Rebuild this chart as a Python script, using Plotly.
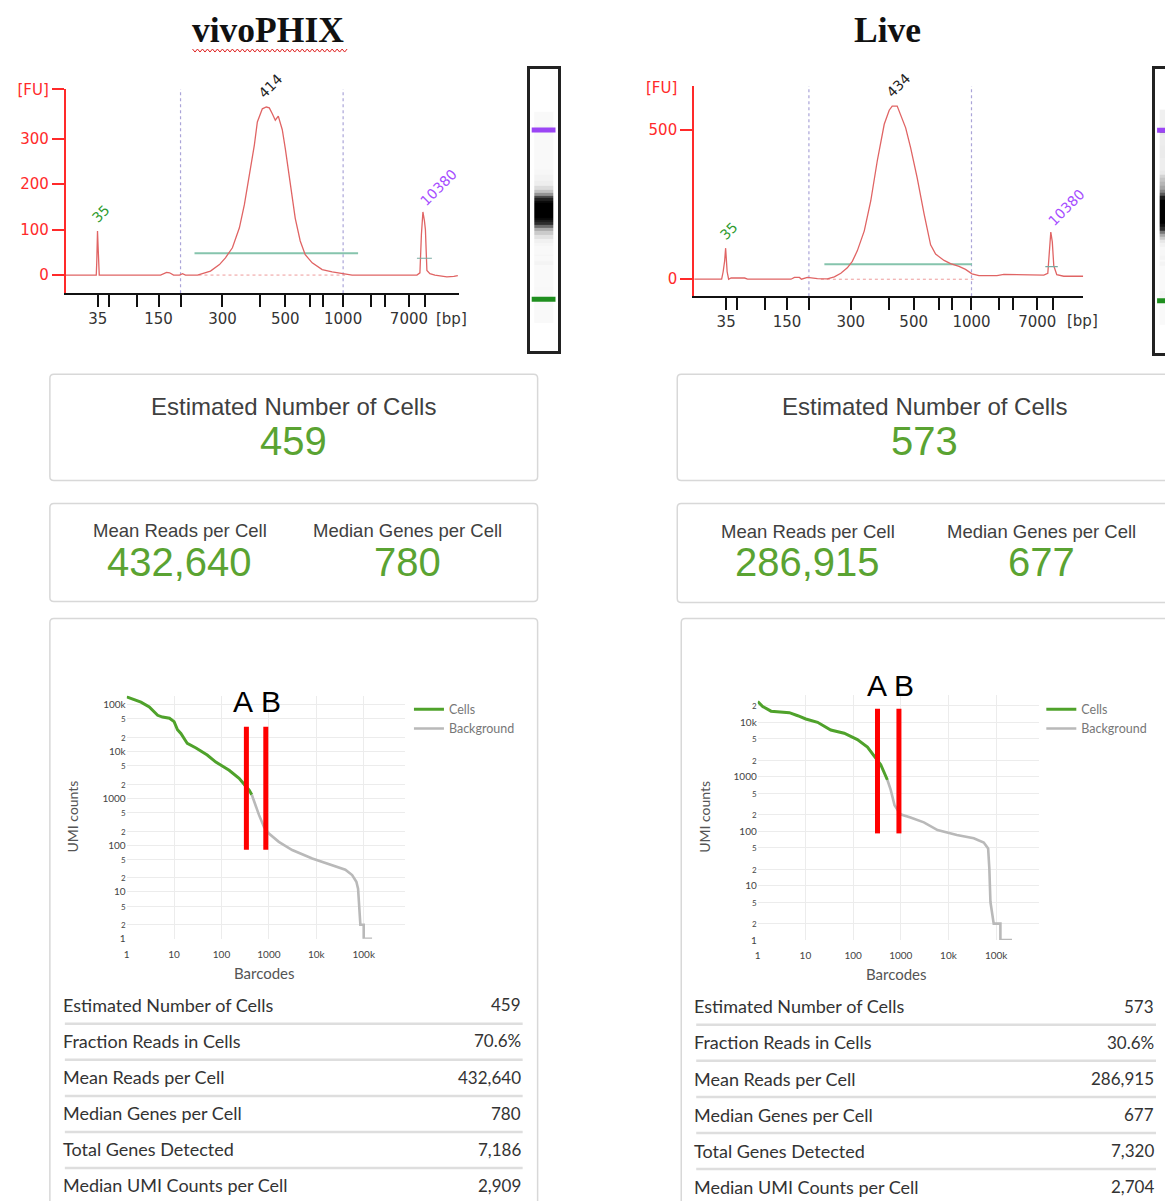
import numpy as np
import plotly.graph_objects as go

W, H = 1165, 1201
OFF, SCALE = 8, 0.9867   # vertical page offset / scale observed in the rendering

# ---------------- data ----------------
samples = ["vivoPHIX", "Live"]

ladder_bp = [35, 50, 100, 150, 200, 300, 400, 500, 600, 700, 1000, 2000, 3000, 7000, 10380]
ladder_time = [42.4, 44.6, 50.2, 54.6, 59.0, 67.4, 75.0, 80.0, 85.0, 87.6, 91.6, 97.2, 100.0, 104.8, 108.0]
labeled_bp = [35, 150, 300, 500, 1000, 7000]
region_bp = [200, 1000]

vivo_time = [36.0, 41.4, 42.1, 42.2, 42.35, 42.45, 42.6, 42.7, 43.4, 45.8, 46.4, 47.0, 55.0, 56.2, 56.8,
             57.6, 58.8, 59.4, 60.0, 62.4, 63.4, 65.0, 66.8, 68.0, 69.4, 70.8, 71.8, 72.8, 73.8, 74.4,
             75.4, 76.2, 76.8, 77.4, 78.0, 78.6, 79.0, 79.4, 80.0, 81.0, 82.0, 83.0, 84.0, 85.4, 87.4,
             89.4, 92.0, 93.4, 106.4, 107.0, 107.3, 107.6, 107.9, 108.1, 108.4, 109.0, 110.0, 111.4,
             112.4, 113.8, 114.6]
vivo_fu = [0, 0, 0, 28, 97, 68, 30, 0, 0, 0, 1, 0, 0, 6, 5,
           0, 0, 3, 0, 0, 3.7, 8.8, 23, 38, 60, 104, 155, 221, 286, 337,
           366, 370, 368, 355, 341, 350, 335, 320, 279, 198, 125, 75, 45, 27, 12,
           7, 2, 0, 0, 5, 90, 139, 120, 100, 10, 3, 0, -2,
           -4, -3, -1]
live_time = [36.0, 41.5, 41.8, 42.1, 42.3, 42.5, 42.6, 42.9, 43.4, 46.1, 46.7, 55.4, 56.1, 57.1, 57.5,
             58.7, 60.7, 62.7, 64.1, 65.4, 66.7, 67.7, 68.7, 70.1, 71.4, 72.7, 74.1, 75.1, 75.7, 76.7,
             77.4, 78.4, 79.4, 80.7, 82.1, 83.4, 84.4, 86.1, 87.4, 89.1, 90.4, 91.7, 93.1, 96.7, 98.1,
             106.1, 106.9, 107.3, 107.5, 107.8, 108.1, 108.7, 110.1, 114.0]
live_fu = [0, 0, 25, 61, 104, 61, 25, 0, 4, 4, 0, 0, 6, 6, 0,
           6, 2, 1, 8, 20, 38, 60, 95, 162, 262, 396, 519, 566, 580, 580,
           550, 507, 440, 340, 218, 115, 84, 63, 52, 43, 33, 18, 12, 12, 16,
           14, 20, 100, 158, 125, 45, 15, 10, 10]

vivo_peak_label = ["35", "414", "10380"]
vivo_peak_time = [42.35, 76.2, 107.6]
vivo_peak_fu = [97, 370, 139]
live_peak_label = ["35", "434", "10380"]
live_peak_time = [42.3, 76.2, 107.5]
live_peak_fu = [104, 580, 158]

vivo_region_time = [61.8, 94.6]
vivo_region_fu = 48
live_region_time = [62.1, 91.7]
live_region_fu = 50
vivo_base_time = [62.6, 92.0]
live_base_time = [61.4, 92.0]
vivo_marker_base = ([106.4, 109.4], 37)
live_marker_base = ([106.4, 108.9], 42)

est_cells = [459, 573]
frac_reads = ["70.6%", "30.6%"]
mean_reads = [432640, 286915]
median_genes = [780, 677]
total_genes = [7186, 7320]
median_umi = [2909, 2704]

vivo_cells_rank = [1, 1.6, 2, 3, 4.5, 5.7, 8, 10, 11.8, 13.9, 19, 29, 50, 76, 145, 235, 383, 436]
vivo_cells_umi = [148000, 126000, 115000, 91000, 60000, 55000, 52000, 44000, 29500, 24500, 15000,
                  12000, 8500, 6000, 4000, 2700, 1500, 1200]
vivo_bg_rank = [436, 490, 620, 790, 1000, 1620, 3100, 8200, 18500, 41000, 57000, 70000, 76000,
                79000, 81000, 85000, 100000, 100000, 150000]
vivo_bg_umi = [1200, 850, 440, 245, 178, 118, 79, 52, 39, 30, 23, 16.6, 11.8, 6.2, 3.2, 2, 2, 1, 1]
live_cells_rank = [1, 1.27, 1.9, 3.1, 4.6, 6.9, 10.2, 18, 34, 65, 123, 200, 275, 380, 525]
live_cells_umi = [24000, 19500, 16000, 15200, 15000, 13200, 11500, 10000, 7200, 6300, 4800, 3500,
                  2450, 1660, 870]
live_bg_rank = [525, 615, 740, 985, 1600, 3050, 5900, 15000, 34000, 55000, 68000, 72000, 76000,
                83000, 89000, 123000, 123000, 215000]
live_bg_umi = [870, 575, 300, 204, 178, 145, 105, 85, 74, 62, 48, 21, 5, 2.9, 2, 2, 1, 1]
vivo_thresh_rank = [335, 860]
vivo_thresh_span = [80, 34000]
live_thresh_rank = [325, 915]
live_thresh_span = [91, 17700]
thresh_labels = ["A", "B"]

table_labels = ["Estimated Number of Cells", "Fraction Reads in Cells", "Mean Reads per Cell",
                "Median Genes per Cell", "Total Genes Detected", "Median UMI Counts per Cell"]

# ---------------- helpers (reference pixel -> paper) ----------------
def PX(x):
    return x / W

def PY(y):
    return 1 - ((y - OFF) / SCALE) / H

def dom_x(a, b):
    return [a / W, min(b / W, 1.0)]

def dom_y(top, bottom):
    return [max(PY(bottom), 0.0), min(PY(top), 1.0)]

def t_of(bp):
    return ladder_time[ladder_bp.index(bp)]

GREEN = "#5aa332"
EP_RED = "#e06464"
AX_RED = "#ff2a2a"

fig = go.Figure()
shapes = []
ann = []

ep_sets = [
    dict(t=vivo_time, f=vivo_fu, xa="x", ya="y", reg=(vivo_region_time, vivo_region_fu),
         base=vivo_base_time, mb=vivo_marker_base,
         pk=(vivo_peak_label, vivo_peak_time, vivo_peak_fu)),
    dict(t=live_time, f=live_fu, xa="x2", ya="y2", reg=(live_region_time, live_region_fu),
         base=live_base_time, mb=live_marker_base,
         pk=(live_peak_label, live_peak_time, live_peak_fu)),
]
peak_colors = ["#2e9a2e", "#222222", "#a64dff"]
peak_shift = [(3, 17), (4, 21), (16, 25)]

for s in ep_sets:
    for b in region_bp:
        shapes.append(dict(type="line", xref=s["xa"], yref=s["ya"] + " domain",
                           x0=t_of(b), x1=t_of(b), y0=0, y1=1,
                           line=dict(color="#aaa4d8", width=1.2, dash="dot"), layer="below"))
    fig.add_trace(go.Scatter(x=s["base"], y=[0, 0], mode="lines", xaxis=s["xa"], yaxis=s["ya"],
                             line=dict(color="#ee9a9a", width=1, dash="dot"), showlegend=False,
                             hoverinfo="skip"))
    fig.add_trace(go.Scatter(x=s["reg"][0], y=[s["reg"][1]] * 2, mode="lines",
                             xaxis=s["xa"], yaxis=s["ya"],
                             line=dict(color="#86c4ad", width=2), showlegend=False, hoverinfo="skip"))
    fig.add_trace(go.Scatter(x=s["t"], y=s["f"], mode="lines", xaxis=s["xa"], yaxis=s["ya"],
                             line=dict(color=EP_RED, width=1.3), showlegend=False))
    fig.add_trace(go.Scatter(x=s["mb"][0], y=[s["mb"][1]] * 2, mode="lines",
                             xaxis=s["xa"], yaxis=s["ya"],
                             line=dict(color="#79aaa2", width=1.2), showlegend=False, hoverinfo="skip"))
    for lab, tt, ff, col, (dx, dy) in zip(*s["pk"], peak_colors, peak_shift):
        ann.append(dict(x=tt, y=ff, xref=s["xa"], yref=s["ya"], text=lab, showarrow=False,
                        textangle=-45, xshift=dx, yshift=dy,
                        font=dict(family="DejaVu Sans", size=14, color=col)))

ep_x = dict(tickmode="array", tickvals=ladder_time,
            ticktext=[str(b) if b in labeled_bp else "" for b in ladder_bp],
            ticks="outside", ticklen=12, tickwidth=2, tickcolor="#111", showline=True,
            linecolor="#111", linewidth=2, showgrid=False, zeroline=False, ticklabelstandoff=-1,
            tickfont=dict(family="DejaVu Sans", size=15, color="#333"), fixedrange=True)
ep_y = dict(ticks="outside", ticklen=12, tickwidth=2, tickcolor=AX_RED, showline=True,
            linecolor=AX_RED, linewidth=2, showgrid=False, zeroline=False, tickmode="array",
            tickfont=dict(family="DejaVu Sans", size=15, color=AX_RED), fixedrange=True)

gel_cs = [[0, "#f9f9f9"], [0.06, "#e8e8e8"], [0.22, "#9a9a9a"], [0.45, "#303030"], [1, "#000000"]]
for s, xa, ya in [(ep_sets[0], "x3", "y3"), (ep_sets[1], "x4", "y4")]:
    fig.add_trace(go.Heatmap(x=[0], y=s["t"], z=[[max(v, 0)] for v in s["f"]], xaxis=xa, yaxis=ya,
                             colorscale=gel_cs, zmin=0, zmax=320, showscale=False, hoverinfo="skip"))
    fig.add_trace(go.Scatter(x=[0, 0], y=[ladder_time[0], ladder_time[-1]], mode="markers",
                             xaxis=xa, yaxis=ya, showlegend=False, hoverinfo="skip",
                             marker=dict(symbol="line-ew", size=17,
                                         line=dict(width=5, color=["#1f8f1f", "#9b45f5"]))))

gel_line = dict(showline=True, linecolor="#222", linewidth=3, showticklabels=False, ticks="",
                showgrid=False, zeroline=False, fixedrange=True)

def umi_ticks(maxval):
    names = {1: "1", 10: "10", 100: "100", 1000: "1000", 10000: "10k", 100000: "100k"}
    vals, texts = [], []
    for e in range(0, 6):
        for m in (1, 2, 5):
            v = m * 10 ** e
            if v > maxval:
                continue
            vals.append(v)
            texts.append(names[v] if m == 1 else "<span style='font-size:8px'>%d</span>" % m)
    return vals, texts

bc_sets = [
    dict(cr=vivo_cells_rank, cu=vivo_cells_umi, br=vivo_bg_rank, bu=vivo_bg_umi, xa="x5", ya="y5",
         leg="legend", th=vivo_thresh_rank, sp=vivo_thresh_span, lab_dx=(-3, 5), lab_dy=25),
    dict(cr=live_cells_rank, cu=live_cells_umi, br=live_bg_rank, bu=live_bg_umi, xa="x6", ya="y6",
         leg="legend2", th=live_thresh_rank, sp=live_thresh_span, lab_dx=(-1, 5), lab_dy=23),
]
for s in bc_sets:
    fig.add_trace(go.Scatter(x=s["cr"], y=s["cu"], mode="lines", name="Cells", xaxis=s["xa"],
                             yaxis=s["ya"], legend=s["leg"], line=dict(color="#4fa22b", width=3)))
    fig.add_trace(go.Scatter(x=s["br"], y=s["bu"], mode="lines", name="Background", xaxis=s["xa"],
                             yaxis=s["ya"], legend=s["leg"], line=dict(color="#b9b9b9", width=2.6)))
    xs, ys = [], []
    for r in s["th"]:
        xs += [r, r, None]
        ys += [s["sp"][0], s["sp"][1], None]
    fig.add_trace(go.Scatter(x=xs, y=ys, mode="lines", xaxis=s["xa"], yaxis=s["ya"],
                             line=dict(color="#ff0000", width=5), showlegend=False, hoverinfo="skip"))
    for r, lab, dx in zip(s["th"], thresh_labels, s["lab_dx"]):
        ann.append(dict(x=np.log10(r), y=np.log10(s["sp"][1]), xref=s["xa"], yref=s["ya"], text=lab,
                        showarrow=False, xshift=dx, yshift=s["lab_dy"],
                        font=dict(family="Liberation Sans", size=30, color="#000")))

def bc_x(domain, rng):
    return dict(type="log", domain=domain, range=rng, tickmode="array",
                tickvals=[1, 10, 100, 1000, 10000, 100000],
                ticktext=["1", "10", "100", "1000", "10k", "100k"], showgrid=True,
                gridcolor="#ececec", gridwidth=1, zeroline=False, showline=False, ticks="outside",
                ticklen=6, tickcolor="rgba(0,0,0,0)",
                tickfont=dict(family="Lato", size=10, color="#444"), fixedrange=True)

def bc_y(domain, rng, maxval):
    v, t = umi_ticks(maxval)
    return dict(type="log", domain=domain, range=rng, tickmode="array", tickvals=v, ticktext=t,
                showgrid=True, gridcolor="#ececec", gridwidth=1, zeroline=False, showline=False,
                ticks="", tickfont=dict(family="Lato", size=10, color="#444"), fixedrange=True)

def rrect(x0, y0, x1, y1, r=4):
    p = lambda x, y: "%.5f,%.5f" % (PX(x), PY(y))
    return ("M " + p(x0 + r, y0) + " L " + p(x1 - r, y0) + " Q " + p(x1, y0) + " " + p(x1, y0 + r) +
            " L " + p(x1, y1 - r) + " Q " + p(x1, y1) + " " + p(x1 - r, y1) +
            " L " + p(x0 + r, y1) + " Q " + p(x0, y1) + " " + p(x0, y1 - r) +
            " L " + p(x0, y0 + r) + " Q " + p(x0, y0) + " " + p(x0 + r, y0) + " Z")

card_boxes = [(47, 373, 536, 479), (47, 502, 536, 600), (47, 617, 536, 1215),
              (676, 373, 1175, 479), (676, 502, 1175, 601), (680, 617, 1175, 1215)]
for b in card_boxes:
    shapes.append(dict(type="path", path=rrect(*b), xref="paper", yref="paper",
                       line=dict(color="#d8d8d8", width=1.5), fillcolor="rgba(0,0,0,0)",
                       layer="below"))

HEAD = dict(family="Liberation Sans", color="#404040")
BIG = dict(family="Liberation Sans", size=40, color=GREEN)
card_pos = [dict(c=291, mr=177, mg=406), dict(c=924, mr=807, mg=1041)]
for i, cp in enumerate(card_pos):
    ann.append(dict(x=PX(cp["c"]), y=PY(405), text="Estimated Number of Cells",
                    font=dict(size=24, **HEAD)))
    ann.append(dict(x=PX(cp["c"]), y=PY(440), text=f"{est_cells[i]:,}", font=BIG))
    ann.append(dict(x=PX(cp["mr"]), y=PY(529 + i), text="Mean Reads per Cell", font=dict(size=18.5, **HEAD)))
    ann.append(dict(x=PX(cp["mr"]), y=PY(561), text=f"{mean_reads[i]:,}", font=BIG))
    ann.append(dict(x=PX(cp["mg"]), y=PY(529 + i), text="Median Genes per Cell", font=dict(size=18.5, **HEAD)))
    ann.append(dict(x=PX(cp["mg"]), y=PY(561), text=f"{median_genes[i]:,}", font=BIG))

tab_geo = [dict(l=62, r=521, y0=1003, sep0=1022), dict(l=695, r=1156, y0=1004.5, sep0=1023)]
for i, g in enumerate(tab_geo):
    vals = [f"{est_cells[i]:,}", frac_reads[i], f"{mean_reads[i]:,}", f"{median_genes[i]:,}",
            f"{total_genes[i]:,}", f"{median_umi[i]:,}"]
    for k, (lab, v) in enumerate(zip(table_labels, vals)):
        yy = g["y0"] + k * 36.1
        ann.append(dict(x=PX(g["l"] - 4), y=PY(yy), text=lab, xanchor="left",
                        font=dict(family="Lato", size=18, color="#333")))
        ann.append(dict(x=PX(g["r"]), y=PY(yy), text=v, xanchor="right",
                        font=dict(family="Lato", size=17, color="#333")))
    for k in range(6):
        ys = g["sep0"] + k * 36
        shapes.append(dict(type="line", xref="paper", yref="paper", x0=PX(g["l"]), x1=PX(g["r"]),
                           y0=PY(ys), y1=PY(ys), line=dict(color="#dedede", width=2.5)))

ann.append(dict(x=PX(266), y=PY(29), text="<b>vivoPHIX</b>",
                font=dict(family="Liberation Serif", size=35.5, color="#111")))
ann.append(dict(x=PX(887), y=PY(29), text="<b>Live</b>",
                font=dict(family="Liberation Serif", size=35.5, color="#111")))
ann.append(dict(x=PX(450), y=PY(318), text="[bp]", font=dict(family="DejaVu Sans", size=15, color="#333")))
ann.append(dict(x=PX(1082), y=PY(320), text="[bp]", font=dict(family="DejaVu Sans", size=15, color="#333")))
ann.append(dict(x=PX(660), y=PY(87), text="[FU]", font=dict(family="DejaVu Sans", size=15, color=AX_RED)))
for cx, cy in [(70, 815), (703, 815)]:
    ann.append(dict(x=PX(cx), y=PY(cy), text="UMI counts", textangle=-90,
                    font=dict(family="Lato", size=14, color="#555")))
for cx, cy in [(262, 971), (896, 972)]:
    ann.append(dict(x=PX(cx), y=PY(cy), text="Barcodes", font=dict(family="Lato", size=15, color="#555")))

# spell-check wavy underline under the title
wx = np.arange(190, 346, 2.5)
pts = " L ".join("%.5f,%.5f" % (PX(x), PY(48 if j % 2 == 0 else 51)) for j, x in enumerate(wx))
shapes.append(dict(type="path", path="M " + pts, xref="paper", yref="paper",
                   line=dict(color="#e02020", width=1)))

for a in ann:
    a.setdefault("xref", "paper")
    a.setdefault("yref", "paper")
    a.setdefault("showarrow", False)
    a.setdefault("xanchor", "center")
    a.setdefault("yanchor", "middle")

leg_common = dict(xanchor="left", yanchor="top", bgcolor="rgba(0,0,0,0)", itemwidth=30,
                  tracegroupgap=0, font=dict(family="Lato", size=12.5, color="#777"))

fig.update_layout(
    width=W, height=H, margin=dict(l=0, r=0, t=0, b=0), paper_bgcolor="white",
    plot_bgcolor="rgba(0,0,0,0)",
    xaxis=dict(domain=dom_x(63, 457), range=[36, 114.8], anchor="y", **ep_x),
    yaxis=dict(domain=dom_y(88, 292), range=[-40, 409.5], anchor="x",
               tickvals=[0, 100, 200, 300, 409], ticktext=["0", "100", "200", "300", "[FU]"], **ep_y),
    xaxis2=dict(domain=dom_x(693, 1083), range=[36, 114], anchor="y2", **ep_x),
    yaxis2=dict(domain=dom_y(85, 295), range=[-57, 647], anchor="x2",
                tickvals=[0, 500], ticktext=["0", "500"], **ep_y),
    xaxis3=dict(domain=dom_x(528, 556), range=[-0.75, 0.75], anchor="y3", mirror=True, **gel_line),
    yaxis3=dict(domain=dom_y(68, 350), range=[22.2, 131.6], anchor="x3", mirror=True, **gel_line),
    xaxis4=dict(domain=dom_x(1155, 1165), range=[-0.75, -0.75 + 1.5 * 10 / 28], anchor="y4",
                mirror=True, **gel_line),
    yaxis4=dict(domain=dom_y(68, 352), range=[22.2, 131.6], anchor="x4", mirror=False, **gel_line),
    xaxis5=bc_x(dom_x(124, 403), [0, 5.87]),
    yaxis5=bc_y(dom_y(694, 937), [0, 5.2], 100000),
    xaxis6=bc_x(dom_x(756.7, 1038.7), [0, 5.9]),
    yaxis6=bc_y(dom_y(693.5, 938.3), [0, 4.5], 20000),
    legend=dict(x=PX(407), y=PY(693), **leg_common),
    legend2=dict(x=PX(1041), y=PY(693), **leg_common),
    shapes=shapes, annotations=ann,
)
fig.layout.xaxis5.anchor = "y5"
fig.layout.yaxis5.anchor = "x5"
fig.layout.xaxis6.anchor = "y6"
fig.layout.yaxis6.anchor = "x6"

fig.write_html("out.html", config={"displayModeBar": False},
               post_script="document.body.style.margin='0';document.body.style.overflow='hidden';")
